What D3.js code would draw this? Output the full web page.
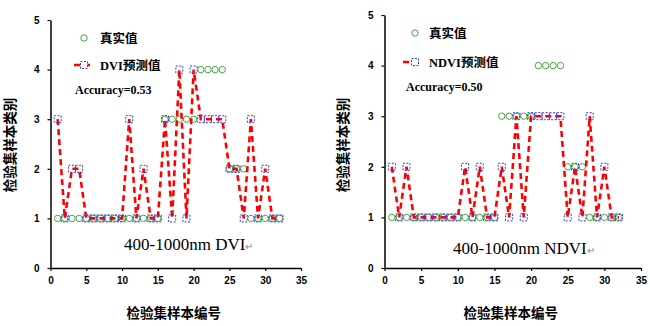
<!DOCTYPE html>
<html><head><meta charset="utf-8">
<script src="https://cdn.jsdelivr.net/npm/d3@7/dist/d3.min.js"></script>
<style>body{margin:0;background:#fff}</style>
</head><body>
<svg id="chart" width="650" height="326"></svg>
<script>
const sampleIds = [1,2,3,4,5,6,7,8,9,10,11,12,13,14,15,16,17,18,19,20,21,22,23,24,25,26,27,28,29,30,31,32];
const trueValues = [1,1,1,1,1,1,1,1,1,1,1,1,1,1,1,3,3,3,3,3,4,4,4,4,2,2,2,1,1,1,1,1];
const dviPred    = [3,1,2,2,1,1,1,1,1,1,3,1,2,1,1,3,1,4,1,4,3,3,3,3,2,2,1,3,1,2,1,1];
const ndviPred   = [2,1,2,1,1,1,1,1,1,1,2,1,2,1,1,2,1,3,1,3,3,3,3,3,1,2,1,3,1,2,1,1];
const xTicks = [0,5,10,15,20,25,30,35];
const yTicks = [0,1,2,3,4,5];
const panelNames = ["DVI", "NDVI"];
const accuracies = ["0.53", "0.50"];
const xTitle = "检验集样本编号";
const yTitle = "检验集样本类别";
const trueLabel = "真实值";

const svg = d3.select("#chart");
const panels = [
  {name: panelNames[0], pred: dviPred, acc: accuracies[0], x0: 50.5, x1: 301, yTop: 20, yBot: 268,
   leg: {cx: 84, ty1: 38, ty2: 65, ty3: 90, tx: 100, lx0: 74, lx1: 93}, cap: {x: 124, y: 250}, ytx: 10},
  {name: panelNames[1], pred: ndviPred, acc: accuracies[1], x0: 384.5, x1: 641, yTop: 15, yBot: 268,
   leg: {cx: 415, ty1: 33, ty2: 62, ty3: 87, tx: 429, lx0: 403, lx1: 423}, cap: {x: 453, y: 254}, ytx: 343}
];

panels.forEach(p => {
  const g = svg.append("g");
  const x = d3.scaleLinear().domain([0,35]).range([p.x0, p.x1]);
  const y = d3.scaleLinear().domain([0,5]).range([p.yBot, p.yTop]);

  const xAxis = g.append("g").attr("transform", `translate(0,${p.yBot})`)
    .call(d3.axisBottom(x).tickValues(xTicks).tickFormat(d3.format("d")).tickSize(3).tickSizeOuter(0).tickPadding(6));
  const yAxis = g.append("g").attr("transform", `translate(${p.x0},0)`)
    .call(d3.axisLeft(y).tickValues(yTicks).tickFormat(d3.format("d")).tickSize(3).tickSizeOuter(0).tickPadding(8));
  [xAxis, yAxis].forEach(a => {
    a.select(".domain").attr("stroke", "#000").attr("stroke-width", 1.5);
    a.selectAll(".tick line").attr("stroke", "#000").attr("stroke-width", 1.2);
    a.selectAll("text").attr("fill", "#000").style("font-family", "Liberation Sans, Arial")
      .style("font-weight", "bold").style("font-size", "10px");
  });

  // true values (circles)
  g.selectAll("circle.t").data(sampleIds).enter().append("circle")
    .attr("cx", (d,i) => x(d)).attr("cy", (d,i) => y(trueValues[i])).attr("r", 3.2)
    .attr("fill", "none").attr("stroke", "#3daa3d").attr("stroke-width", 1);

  // predictions line
  const line = d3.line().x((d,i) => x(sampleIds[i])).y(d => y(d));
  g.append("path").datum(p.pred).attr("d", line)
    .attr("fill", "none").attr("stroke", "#ff0000").attr("stroke-width", 2.6)
    .attr("stroke-dasharray", "6,4");
  g.selectAll("rect.p").data(p.pred).enter().append("rect")
    .attr("x", (d,i) => x(sampleIds[i]) - 3.5).attr("y", d => y(d) - 3.5)
    .attr("width", 7).attr("height", 7)
    .attr("fill", "none").attr("stroke", "#3a3ad8").attr("stroke-width", 1)
    .attr("stroke-dasharray", "2,1.5");

  // legend
  const L = p.leg;
  g.append("circle").attr("cx", L.cx).attr("cy", L.ty1).attr("r", 3.2)
    .attr("fill", "none").attr("stroke", "#3daa3d").attr("stroke-width", 1);
  g.append("text").attr("x", L.tx).attr("y", L.ty1 + 4.5).text(trueLabel)
    .style("font-family", "Noto Sans CJK SC").style("font-weight", "bold").style("font-size", "12.5px");
  g.append("line").attr("x1", L.lx0).attr("x2", L.lx1).attr("y1", L.ty2).attr("y2", L.ty2)
    .attr("stroke", "#ff0000").attr("stroke-width", 2.6).attr("stroke-dasharray", "6,4");
  g.append("rect").attr("x", L.cx - 3.5).attr("y", L.ty2 - 3.5).attr("width", 7).attr("height", 7)
    .attr("fill", "#fff").attr("stroke", "#3a3ad8").attr("stroke-width", 1).attr("stroke-dasharray", "2,1.5");
  g.append("text").attr("x", L.tx).attr("y", L.ty2 + 4.5).text(p.name + "预测值")
    .style("font-family", "Liberation Serif, Noto Sans CJK SC").style("font-weight", "bold").style("font-size", "12.5px");
  g.append("text").attr("x", L.cx - 9).attr("y", L.ty3 + 4).text("Accuracy=" + p.acc)
    .style("font-family", "Liberation Serif").style("font-weight", "bold").style("font-size", "12px");

  // caption
  const cap = g.append("text").attr("x", p.cap.x).attr("y", p.cap.y)
    .style("font-family", "Liberation Serif").style("font-size", "17px").attr("fill", "#000");
  cap.append("tspan").text("400-1000nm " + p.name);
  cap.append("tspan").text("↵").style("font-size", "10px").attr("fill", "#888");

  // axis titles
  g.append("text").attr("x", (p.x0 + p.x1) / 2 - 2).attr("y", 318).attr("text-anchor", "middle")
    .text(xTitle).style("font-family", "Noto Sans CJK SC").style("font-weight", "bold").style("font-size", "13.5px");
  g.append("text").attr("transform", `translate(${p.ytx + 5},145) rotate(-90)`).attr("text-anchor", "middle")
    .text(yTitle).style("font-family", "Noto Sans CJK SC").style("font-weight", "bold").style("font-size", "13.5px");
});
</script>
</body></html>
